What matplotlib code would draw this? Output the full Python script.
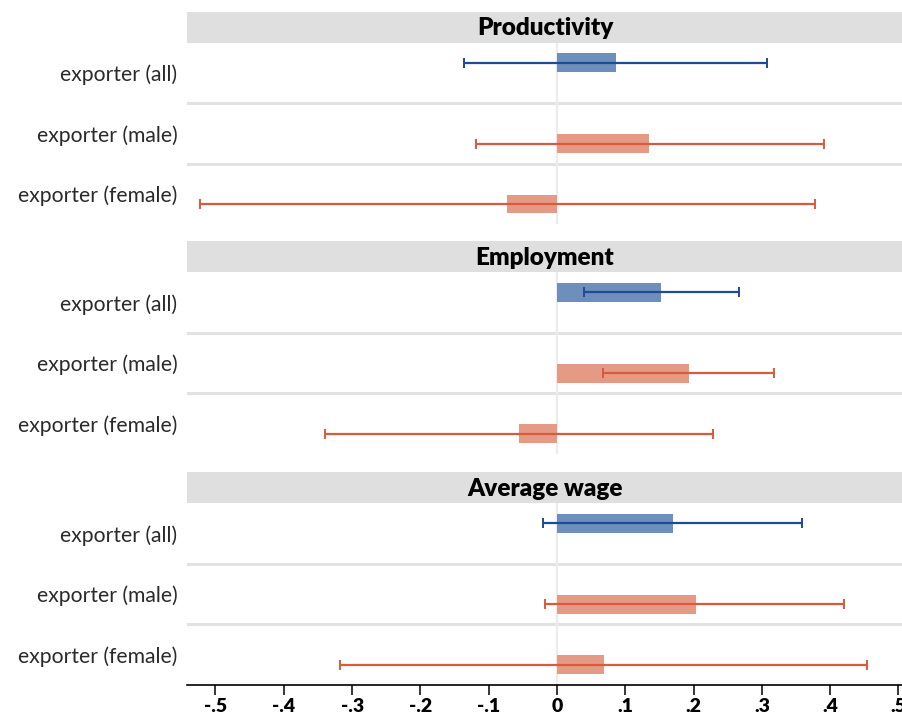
import matplotlib
matplotlib.use("Agg")
import matplotlib.pyplot as plt
from matplotlib.ticker import FixedLocator, FuncFormatter

# Outcome panels and row labels
panel_titles = ["Productivity", "Employment", "Average wage"]
row_labels = ["exporter (all)", "exporter (male)", "exporter (female)"]

# Point estimates (all, male, female) and 95% confidence bounds
productivity_coef = [0.086, 0.135, -0.073]
productivity_lo = [-0.136, -0.119, -0.522]
productivity_hi = [0.307, 0.391, 0.378]

employment_coef = [0.153, 0.193, -0.056]
employment_lo = [0.039, 0.068, -0.339]
employment_hi = [0.267, 0.317, 0.228]

wage_coef = [0.170, 0.203, 0.069]
wage_lo = [-0.020, -0.017, -0.318]
wage_hi = [0.359, 0.420, 0.454]

x_ticks = [-0.5, -0.4, -0.3, -0.2, -0.1, 0.0, 0.1, 0.2, 0.3, 0.4, 0.5]

panels = [
    (productivity_coef, productivity_lo, productivity_hi),
    (employment_coef, employment_lo, employment_hi),
    (wage_coef, wage_lo, wage_hi),
]

BLUE_BAR = "#6e8fbb"
BLUE_LINE = "#1d4b94"
ORANGE_BAR = "#e59a86"
ORANGE_LINE = "#d95a3c"
HEADER = "#dfdfdf"
GRID = "#e2e2e2"

plt.rcParams["font.family"] = ["Lato", "DejaVu Sans"]

W, H = 903, 715
fig = plt.figure(figsize=(W / 100, H / 100), dpi=100)

left_px, right_px = 187, 903
plot_h = 181.3
header_h = 31.0
plot_tops = [42.7, 272.3, 503.3]
xlim = (-0.5417, 0.5066)

def fx(px):
    return px / W

def fy(px):
    return 1 - px / H

for k, (title, (coef, lo, hi), top) in enumerate(zip(panel_titles, panels, plot_tops)):
    bottom = top + plot_h
    ax = fig.add_axes([fx(left_px), fy(bottom), fx(right_px - left_px), plot_h / H])
    hax = fig.add_axes([fx(left_px), fy(top), fx(right_px - left_px), header_h / H])

    # header strip
    hax.set_facecolor(HEADER)
    hax.set_xticks([])
    hax.set_yticks([])
    for s in hax.spines.values():
        s.set_visible(False)
    hax.text(0.5, 0.47, title, ha="center", va="center", fontsize=17.5,
             fontweight="heavy", color="black", transform=hax.transAxes)

    ax.set_xlim(*xlim)
    ax.set_ylim(3, 0)
    for s in ax.spines.values():
        s.set_visible(False)

    # row separators and zero reference
    for yb in (1, 2):
        ax.axhline(yb, color=GRID, lw=2.2, zorder=0)
    ax.axvline(0, color="#ececec", lw=1.6, zorder=0)

    centers = [i + 0.5 for i in range(3)]
    offsets = [-0.17, 0.17, 0.17]
    for i in range(3):
        y = centers[i] + offsets[i]
        bar_c = BLUE_BAR if i == 0 else ORANGE_BAR
        line_c = BLUE_LINE if i == 0 else ORANGE_LINE
        ax.barh(y, coef[i], height=0.31, left=0, color=bar_c, zorder=2)
        ax.errorbar(coef[i], y, xerr=[[coef[i] - lo[i]], [hi[i] - coef[i]]],
                    fmt="none", ecolor=line_c, elinewidth=1.6, capsize=3.8,
                    capthick=1.4, zorder=3)

    ax.set_yticks(centers)
    ax.set_yticklabels(row_labels, fontsize=15.2, fontweight="normal", color="#2a2a2a")
    ax.tick_params(axis="y", length=0, pad=7)

    if k == 2:
        ax.spines["bottom"].set_visible(True)
        ax.spines["bottom"].set_color("black")
        ax.spines["bottom"].set_linewidth(1.2)
        ax.xaxis.set_major_locator(FixedLocator(x_ticks))
        ax.xaxis.set_major_formatter(FuncFormatter(
            lambda v, p: "0" if abs(v) < 1e-9 else ("%.1f" % v).replace("0.", ".")))
        ax.tick_params(axis="x", length=7, width=1.1, color="black", pad=3,
                       labelsize=14)
        for t in ax.get_xticklabels():
            t.set_fontweight("heavy")
    else:
        ax.set_xticks([])

fig.savefig("out.png", dpi=100)
